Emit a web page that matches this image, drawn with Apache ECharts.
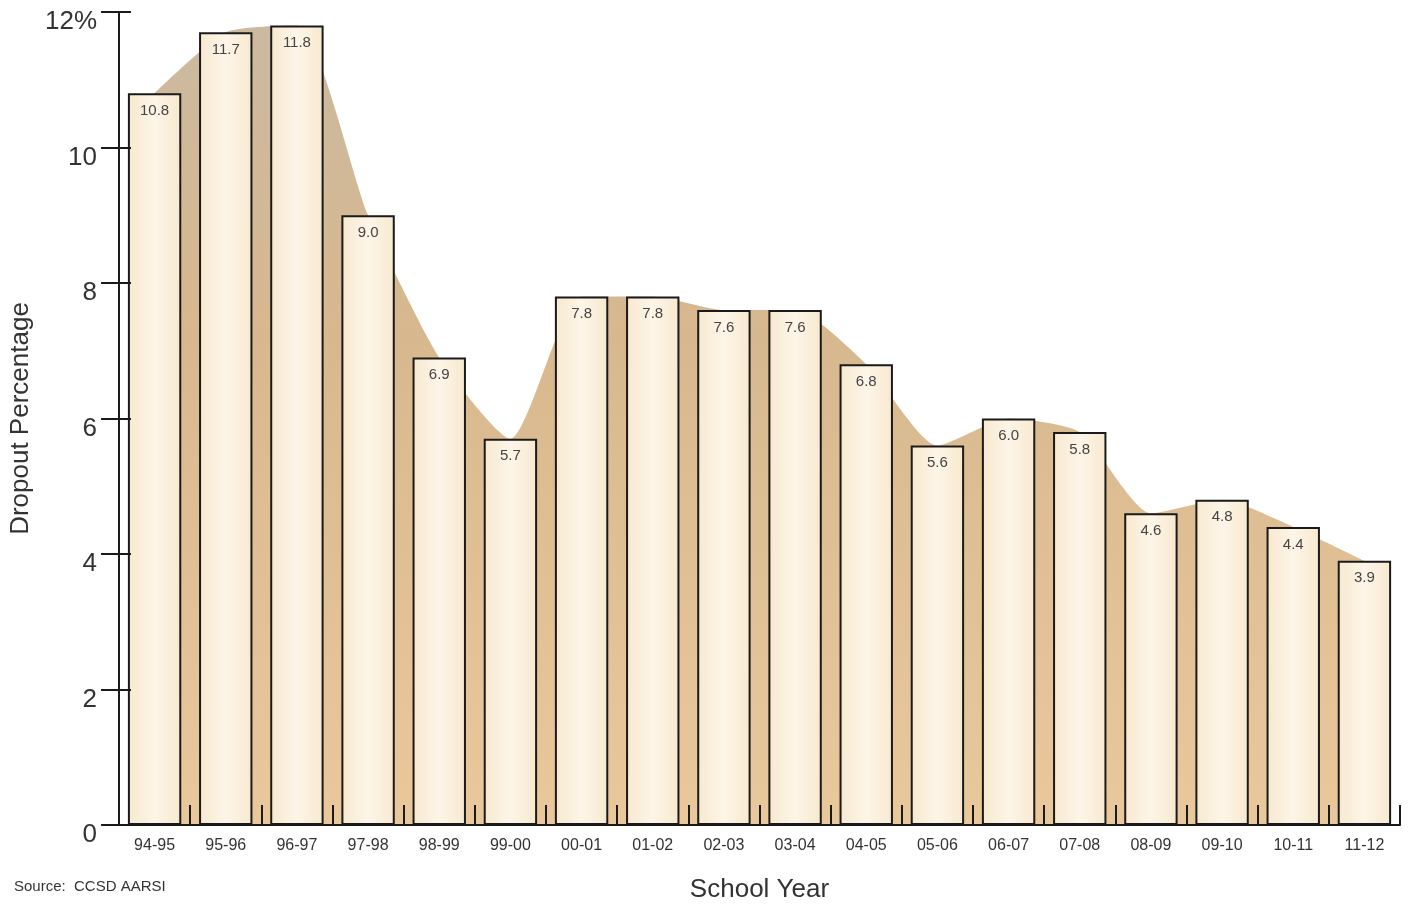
<!DOCTYPE html>
<html><head><meta charset="utf-8">
<script src="https://cdn.jsdelivr.net/npm/echarts@6/dist/echarts.min.js"></script>
<style>html,body{margin:0;padding:0;background:#fff}#c{width:1410px;height:909px}</style>
</head><body><div id="c"></div>
<script>
const categories = ['94-95','95-96','96-97','97-98','98-99','99-00','00-01','01-02','02-03','03-04','04-05','05-06','06-07','07-08','08-09','09-10','10-11','11-12'];
const dropoutValues = [10.8,11.7,11.8,9.0,6.9,5.7,7.8,7.8,7.6,7.6,6.8,5.6,6.0,5.8,4.6,4.8,4.4,3.9];
const yTickLabels = {0:'0',2:'2',4:'4',6:'6',8:'8',10:'10',12:'12%'};

const chart = echarts.init(document.getElementById('c'), null, {renderer:'canvas'});
const font = 'Liberation Sans, Arial, sans-serif';
chart.setOption({
  animation:false,
  backgroundColor:'#ffffff',
  grid:{left:119,right:10,top:12,bottom:84,containLabel:false},
  graphic:[
    {type:'text',left:14,top:879,style:{text:'Source:  CCSD AARSI',font:'15px '+font,fill:'#333'}}
  ],
  xAxis:{
    type:'category',data:categories,boundaryGap:true,z:10,
    name:'School Year',nameLocation:'middle',nameGap:52,
    nameTextStyle:{fontSize:26,fontFamily:font,color:'#333'},
    axisLine:{show:true,lineStyle:{color:'#1a1a1a',width:2}},
    axisTick:{show:true,alignWithLabel:false,interval:0,inside:true,length:20,lineStyle:{color:'#1a1a1a',width:2}},
    axisLabel:{fontSize:16,fontFamily:font,color:'#333',margin:13,interval:0},
    splitLine:{show:false}
  },
  yAxis:[{
    type:'value',min:0,max:12,interval:2,z:10,
    name:'Dropout Percentage',nameLocation:'middle',nameGap:78,nameRotate:90,
    nameTextStyle:{fontSize:26,fontFamily:font,color:'#333'},
    axisLine:{show:true,lineStyle:{color:'#1a1a1a',width:2}},
    axisTick:{show:true,inside:false,length:18,lineStyle:{color:'#1a1a1a',width:2}},
    axisLabel:{fontSize:26,fontFamily:font,color:'#333',margin:22,verticalAlign:'top',lineHeight:20,formatter:v=>yTickLabels[v]},
    splitLine:{show:false}
  },{
    type:'value',min:0,max:12,interval:2,position:'left',z:10,
    axisLine:{show:false},
    axisTick:{show:true,inside:true,length:12,lineStyle:{color:'#1a1a1a',width:2}},
    axisLabel:{show:false},splitLine:{show:false}
  }],
  series:[{
    type:'line',data:dropoutValues,smooth:0.2,symbol:'none',z:1,
    lineStyle:{width:0},
    areaStyle:{opacity:1,color:new echarts.graphic.LinearGradient(0,0,0,1,[
      {offset:0,color:'#cbb9a0'},{offset:0.4,color:'#d8b88e'},{offset:1,color:'#e9c89c'}])}
  },{
    type:'bar',data:dropoutValues,barWidth:'75%',z:3,
    itemStyle:{borderColor:'#1a1a1a',borderWidth:2,
      color:new echarts.graphic.LinearGradient(0,0,1,0,[
        {offset:0,color:'#f8e9cf'},{offset:0.5,color:'#fdf5e8'},{offset:1,color:'#f8e9cf'}])},
    label:{show:true,position:'insideTop',distance:10,fontSize:15,fontFamily:font,color:'#444',
      formatter:p=>p.value.toFixed(1)}
  }]
});
</script></body></html>
